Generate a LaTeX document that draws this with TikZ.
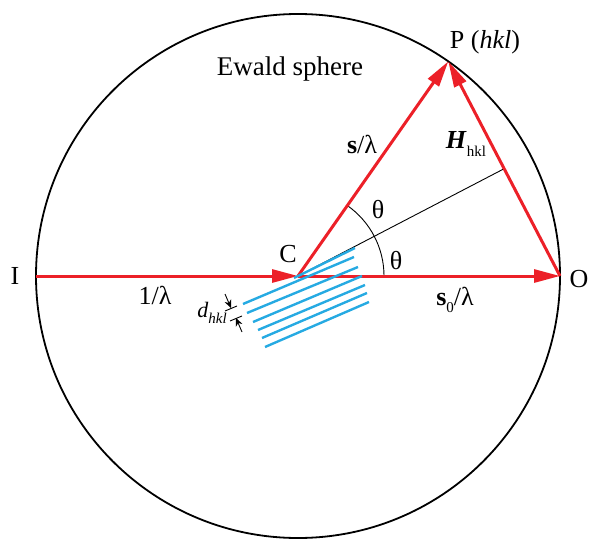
\documentclass[tikz,border=0pt]{standalone}
\usepackage{fontspec}
\setmainfont{Liberation Serif}
\usetikzlibrary{arrows.meta,calc}
\definecolor{vred}{RGB}{236,32,40}
\definecolor{vcyan}{RGB}{38,170,226}
\newcommand{\subsm}[1]{\raisebox{-0.28em}{\fontsize{15}{15}\selectfont #1}}
\begin{document}
\begin{tikzpicture}[x=1pt,y=-1pt,
  lab/.style={font=\fontsize{26}{28}\selectfont, inner sep=0pt},
  redarr/.style={draw=vred, line width=3pt, -{Triangle[length=26pt,width=13pt]}},
  plane/.style={draw=vcyan, line width=2.4pt},
  thin/.style={draw=black, line width=0.9pt},
  dim/.style={draw=black, line width=0.9pt, -{Stealth[length=8pt,width=7pt]}}]
\useasboundingbox (0,0) rectangle (594,543);
\coordinate (C) at (298,276);
\coordinate (I) at (36,276);
\coordinate (O) at (560,276);
\coordinate (P) at (448.3,61.4);
\coordinate (M) at ($(O)!0.5!(P)$);
% sphere
\draw[line width=1.8pt] (C) circle[radius=262];
% bisector and angle arc
\draw[thin] (C) -- (M);
\draw[thin] ($(C)+(86,0)$) arc[start angle=0, end angle=-55, radius=86];
% vectors
\draw[redarr] (I) -- (C);
\draw[redarr] (C) -- (O);
\draw[redarr] (C) -- (P);
\draw[redarr] (O) -- (P);
% lattice planes
\draw[plane] (294,278) -- (355,248);
\draw[plane] (243,304) -- (354,257);
\draw[plane] (247,313) -- (358,267);
\draw[plane] (253,322) -- (362,276);
\draw[plane] (258,330) -- (365,285);
\draw[plane] (262,338) -- (367,293);
\draw[plane] (265,347) -- (369,302);
% d_hkl markers
\coordinate (d1s) at (225,294);
\coordinate (d1e) at (231,308);
\coordinate (d2s) at (242,332);
\coordinate (d2e) at (236,318);
\draw[dim] (d1s) -- (d1e);
\draw[dim] (d2s) -- (d2e);
\draw[thin] (225,311) -- (237,306);
\draw[thin] (230,321) -- (242,316);
% labels
\node[lab, font=\fontsize{27}{29}\selectfont] (ewald) at (290,69) {Ewald sphere};
\node[lab] (ptext) at (485,42) {P (\textit{hkl})};
\node[lab] (slam) at (362,144) {\textbf{s}/λ};
\node[lab] (hlab) at (466,144) {\textbf{\textit{H}}\subsm{hkl}};
\node[lab] (clab) at (288,254) {C};
\node[lab] (th1) at (378,210) {θ};
\node[lab] (th2) at (396,261) {θ};
\node[lab] (ilab) at (15,276) {I};
\node[lab] (lam1) at (155,295) {1/λ};
\node[lab] (s0lab) at (455,300) {\textbf{s}\subsm{0}/λ};
\node[lab] (olab) at (579,279) {O};
\node[lab, font=\fontsize{22}{24}\selectfont] (dlab) at (212,313) {\textit{d}\subsm{\textit{hkl}}};
\end{tikzpicture}
\end{document}
